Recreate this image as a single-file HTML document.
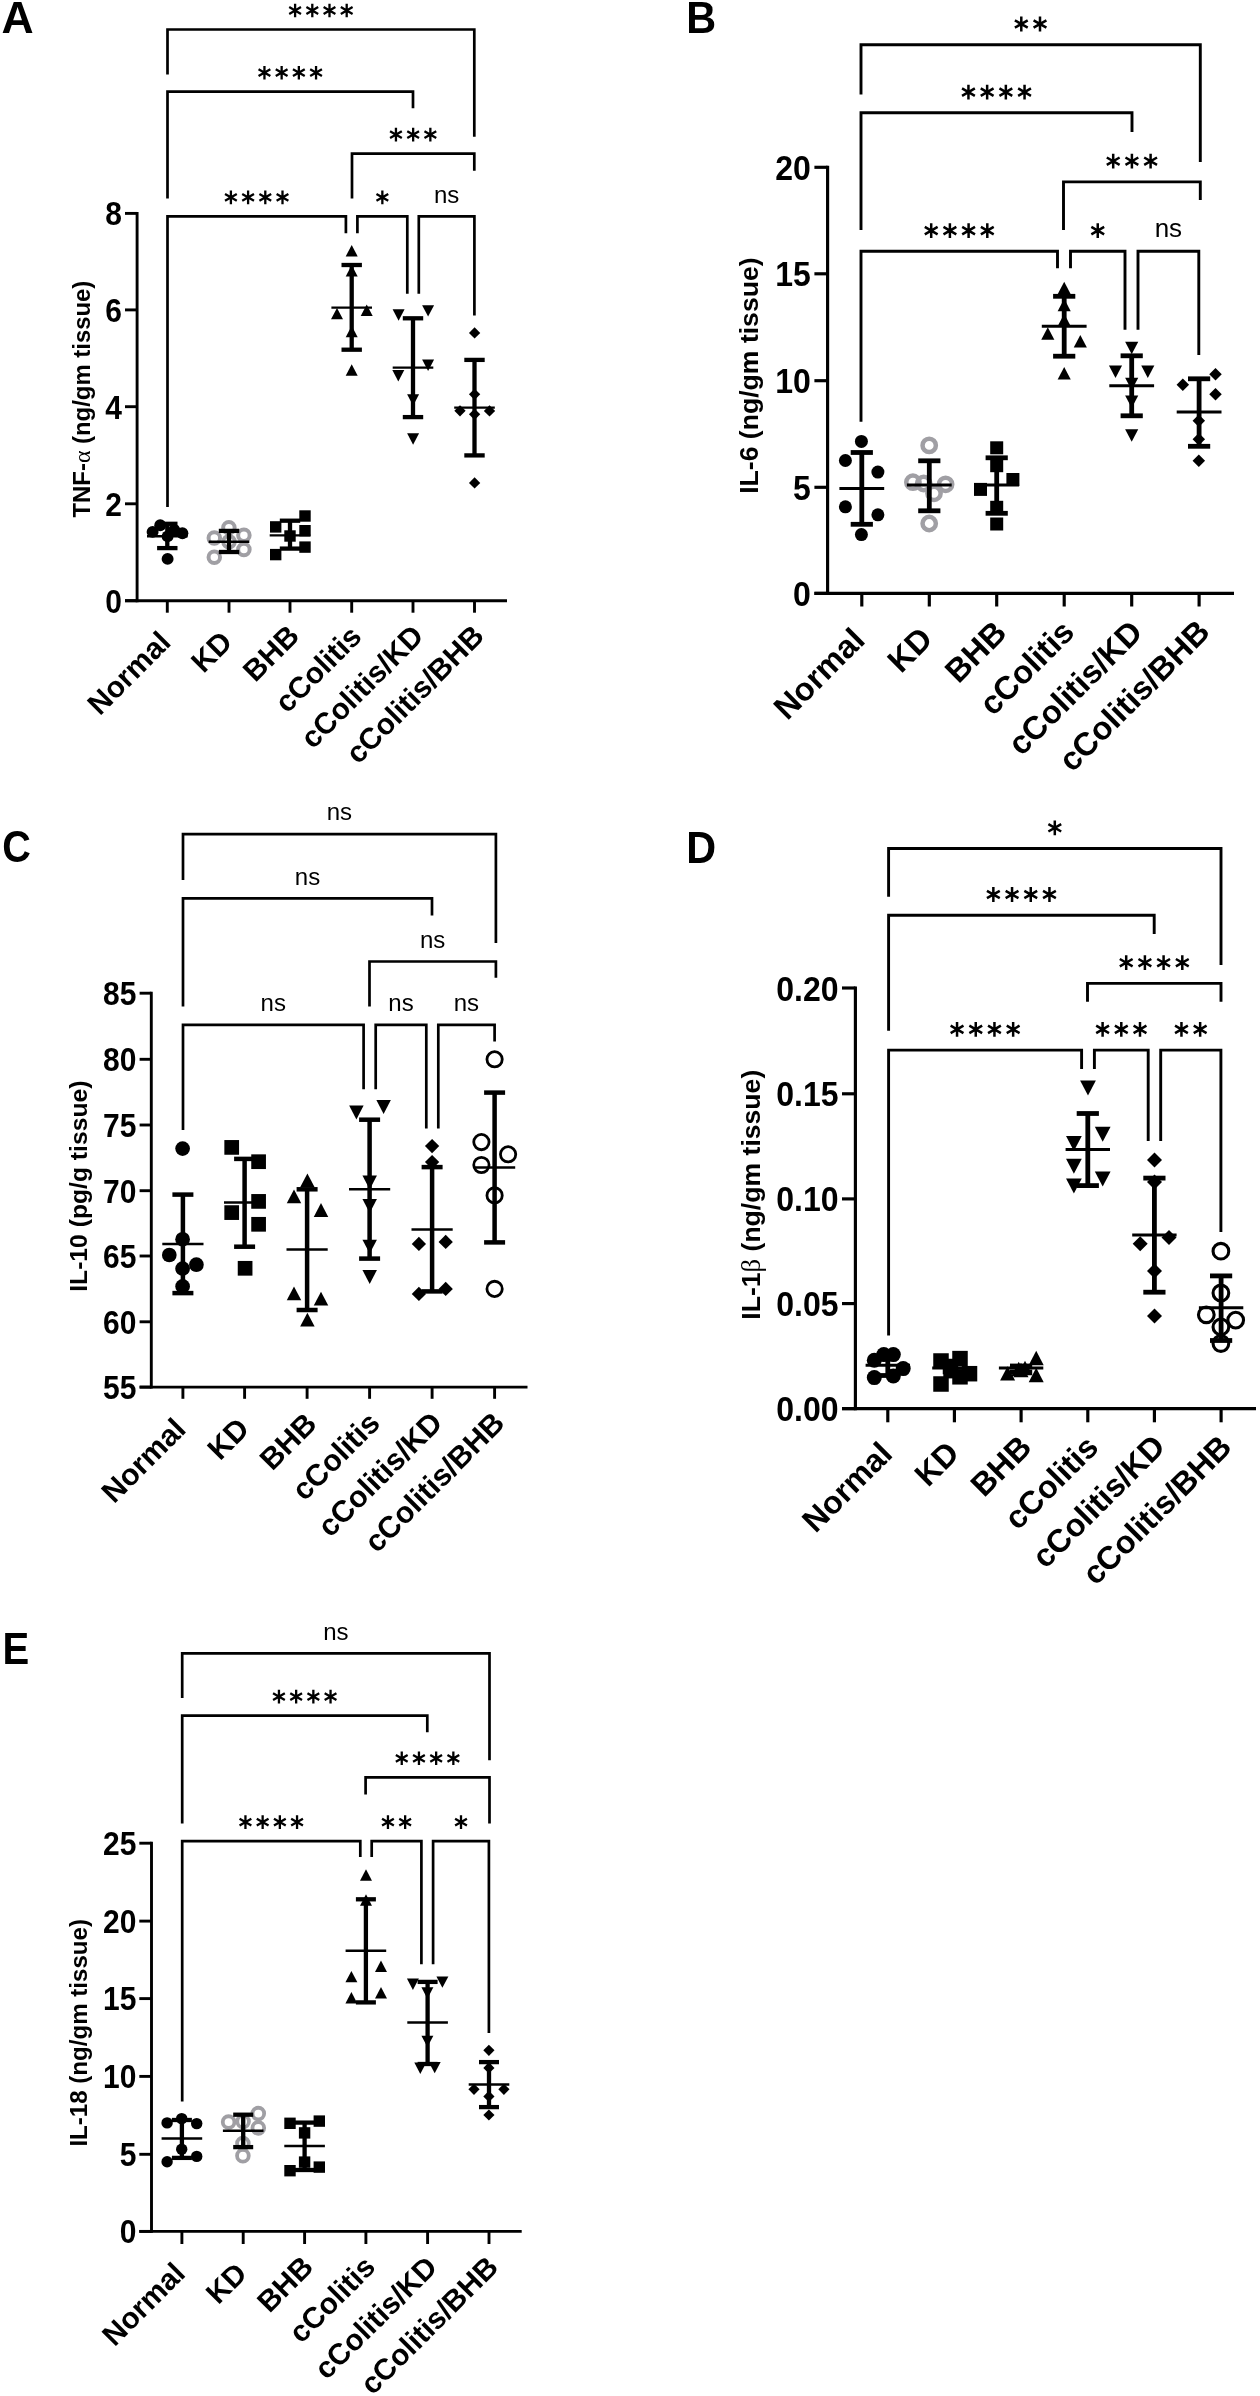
<!DOCTYPE html>
<html><head><meta charset="utf-8"><style>
html,body{margin:0;padding:0;background:#fff;}
svg{display:block;will-change:transform;}
</style></head><body>
<svg width="1260" height="2396" viewBox="0 0 1260 2396">
<text transform="translate(1.4 32.7) scale(1.0 1)" font-family='"Liberation Sans", sans-serif' font-size="44.5" font-weight="bold">A</text>
<line x1="137.1" y1="211.95" x2="137.1" y2="602.15" stroke="#000" stroke-width="2.9" stroke-linecap="butt"/>
<line x1="125" y1="213.4" x2="137.1" y2="213.4" stroke="#000" stroke-width="2.9" stroke-linecap="butt"/>
<text transform="translate(121.9 225.19) scale(1 1.09)" font-family='"Liberation Sans", sans-serif' font-size="30" font-weight="bold" text-anchor="end">8</text>
<line x1="125" y1="309.9" x2="137.1" y2="309.9" stroke="#000" stroke-width="2.9" stroke-linecap="butt"/>
<text transform="translate(121.9 321.69) scale(1 1.09)" font-family='"Liberation Sans", sans-serif' font-size="30" font-weight="bold" text-anchor="end">6</text>
<line x1="125" y1="406.7" x2="137.1" y2="406.7" stroke="#000" stroke-width="2.9" stroke-linecap="butt"/>
<text transform="translate(121.9 418.5) scale(1 1.09)" font-family='"Liberation Sans", sans-serif' font-size="30" font-weight="bold" text-anchor="end">4</text>
<line x1="125" y1="503.8" x2="137.1" y2="503.8" stroke="#000" stroke-width="2.9" stroke-linecap="butt"/>
<text transform="translate(121.9 515.6) scale(1 1.09)" font-family='"Liberation Sans", sans-serif' font-size="30" font-weight="bold" text-anchor="end">2</text>
<line x1="125" y1="600.7" x2="137.1" y2="600.7" stroke="#000" stroke-width="2.9" stroke-linecap="butt"/>
<text transform="translate(121.9 612.5) scale(1 1.09)" font-family='"Liberation Sans", sans-serif' font-size="30" font-weight="bold" text-anchor="end">0</text>
<line x1="125" y1="600.7" x2="507" y2="600.7" stroke="#000" stroke-width="2.9" stroke-linecap="butt"/>
<line x1="167.3" y1="600.7" x2="167.3" y2="612.7" stroke="#000" stroke-width="2.9" stroke-linecap="butt"/>
<line x1="229" y1="600.7" x2="229" y2="612.7" stroke="#000" stroke-width="2.9" stroke-linecap="butt"/>
<line x1="290" y1="600.7" x2="290" y2="612.7" stroke="#000" stroke-width="2.9" stroke-linecap="butt"/>
<line x1="351.7" y1="600.7" x2="351.7" y2="612.7" stroke="#000" stroke-width="2.9" stroke-linecap="butt"/>
<line x1="413" y1="600.7" x2="413" y2="612.7" stroke="#000" stroke-width="2.9" stroke-linecap="butt"/>
<line x1="474.5" y1="600.7" x2="474.5" y2="612.7" stroke="#000" stroke-width="2.9" stroke-linecap="butt"/>
<text x="172.4" y="643.9" font-family='"Liberation Sans", sans-serif' font-size="29.8" font-weight="bold" text-anchor="end" transform="rotate(-45 172.4 643.9)">Normal</text>
<text x="234" y="643.85" font-family='"Liberation Sans", sans-serif' font-size="29.8" font-weight="bold" text-anchor="end" transform="rotate(-45 234 643.85)">KD</text>
<text x="301" y="637.55" font-family='"Liberation Sans", sans-serif' font-size="29.8" font-weight="bold" text-anchor="end" transform="rotate(-45 301 637.55)">BHB</text>
<text x="363.3" y="638.2" font-family='"Liberation Sans", sans-serif' font-size="29.8" font-weight="bold" text-anchor="end" transform="rotate(-45 363.3 638.2)">cColitis</text>
<text x="425.35" y="637.6" font-family='"Liberation Sans", sans-serif' font-size="29.8" font-weight="bold" text-anchor="end" transform="rotate(-45 425.35 637.6)">cColitis/KD</text>
<text x="485.75" y="637.6" font-family='"Liberation Sans", sans-serif' font-size="29.8" font-weight="bold" text-anchor="end" transform="rotate(-45 485.75 637.6)">cColitis/BHB</text>
<text x="89.6" y="399.1" font-family='"Liberation Sans", sans-serif' font-size="23.9" font-weight="bold" text-anchor="middle" transform="rotate(-90 89.6 399.1)">TNF-<tspan font-family="Liberation Serif" font-weight="normal">α</tspan> (ng/gm tissue)</text>
<circle cx="160.2" cy="525.2" r="5.95" fill="#000"/>
<circle cx="152.6" cy="531.9" r="5.95" fill="#000"/>
<circle cx="182.4" cy="533.3" r="5.95" fill="#000"/>
<circle cx="167.6" cy="536.4" r="5.95" fill="#000"/>
<circle cx="174.3" cy="530" r="5.95" fill="#000"/>
<circle cx="167.6" cy="558.9" r="5.95" fill="#000"/>
<circle cx="228.9" cy="527.8" r="5.75" fill="none" stroke="#a09fa4" stroke-width="4"/>
<circle cx="214.3" cy="538.1" r="5.75" fill="none" stroke="#a09fa4" stroke-width="4"/>
<circle cx="243.9" cy="535.2" r="5.75" fill="none" stroke="#a09fa4" stroke-width="4"/>
<circle cx="243.9" cy="549.6" r="5.75" fill="none" stroke="#a09fa4" stroke-width="4"/>
<circle cx="214.3" cy="557.2" r="5.75" fill="none" stroke="#a09fa4" stroke-width="4"/>
<circle cx="229" cy="541.7" r="5.75" fill="none" stroke="#a09fa4" stroke-width="4"/>
<rect x="299.3" y="510.3" width="11.4" height="11.4" fill="#000"/>
<rect x="270" y="521.2" width="11.4" height="11.4" fill="#000"/>
<rect x="299.3" y="525" width="11.4" height="11.4" fill="#000"/>
<rect x="284.3" y="530.3" width="11.4" height="11.4" fill="#000"/>
<rect x="299.3" y="541.4" width="11.4" height="11.4" fill="#000"/>
<rect x="270" y="548.9" width="11.4" height="11.4" fill="#000"/>
<path d="M351.7 245L357.69 256.4L345.71 256.4Z" fill="#000"/>
<path d="M351.7 265L357.69 276.4L345.71 276.4Z" fill="#000"/>
<path d="M337 307.9L342.99 319.3L331.01 319.3Z" fill="#000"/>
<path d="M366.7 304.6L372.69 316L360.71 316Z" fill="#000"/>
<path d="M351.7 325.8L357.69 337.2L345.71 337.2Z" fill="#000"/>
<path d="M351.7 364.3L357.69 375.7L345.71 375.7Z" fill="#000"/>
<path d="M398.6 320.7L404.59 309.3L392.62 309.3Z" fill="#000"/>
<path d="M428.1 316.6L434.09 305.2L422.12 305.2Z" fill="#000"/>
<path d="M428.1 370.9L434.09 359.5L422.12 359.5Z" fill="#000"/>
<path d="M398.3 381.4L404.29 370L392.31 370Z" fill="#000"/>
<path d="M413.1 405.7L419.09 394.3L407.12 394.3Z" fill="#000"/>
<path d="M413.1 444.7L419.09 433.3L407.12 433.3Z" fill="#000"/>
<path d="M474.6 327.25L480.25 332.9L474.6 338.55L468.95 332.9Z" fill="#000"/>
<path d="M474.6 388.65L480.25 394.3L474.6 399.95L468.95 394.3Z" fill="#000"/>
<path d="M460 405.15L465.65 410.8L460 416.45L454.35 410.8Z" fill="#000"/>
<path d="M489.5 405.25L495.15 410.9L489.5 416.55L483.85 410.9Z" fill="#000"/>
<path d="M474.6 408.65L480.25 414.3L474.6 419.95L468.95 414.3Z" fill="#000"/>
<path d="M474.6 477.25L480.25 482.9L474.6 488.55L468.95 482.9Z" fill="#000"/>
<line x1="167.3" y1="523.8" x2="167.3" y2="548.1" stroke="#000" stroke-width="4.3" stroke-linecap="butt"/>
<line x1="157.1" y1="523.8" x2="177.5" y2="523.8" stroke="#000" stroke-width="4.3" stroke-linecap="butt"/>
<line x1="157.1" y1="548.1" x2="177.5" y2="548.1" stroke="#000" stroke-width="4.3" stroke-linecap="butt"/>
<line x1="147" y1="536.2" x2="187.6" y2="536.2" stroke="#000" stroke-width="2.4" stroke-linecap="butt"/>
<line x1="229" y1="530.9" x2="229" y2="552" stroke="#000" stroke-width="4.3" stroke-linecap="butt"/>
<line x1="218.8" y1="530.9" x2="239.2" y2="530.9" stroke="#000" stroke-width="4.3" stroke-linecap="butt"/>
<line x1="218.8" y1="552" x2="239.2" y2="552" stroke="#000" stroke-width="4.3" stroke-linecap="butt"/>
<line x1="208.7" y1="541.7" x2="249.3" y2="541.7" stroke="#000" stroke-width="2.4" stroke-linecap="butt"/>
<line x1="290" y1="520.7" x2="290" y2="548.6" stroke="#000" stroke-width="4.3" stroke-linecap="butt"/>
<line x1="279.8" y1="520.7" x2="300.2" y2="520.7" stroke="#000" stroke-width="4.3" stroke-linecap="butt"/>
<line x1="279.8" y1="548.6" x2="300.2" y2="548.6" stroke="#000" stroke-width="4.3" stroke-linecap="butt"/>
<line x1="269.7" y1="535.4" x2="310.3" y2="535.4" stroke="#000" stroke-width="2.4" stroke-linecap="butt"/>
<line x1="351.7" y1="265" x2="351.7" y2="349.7" stroke="#000" stroke-width="4.3" stroke-linecap="butt"/>
<line x1="341.5" y1="265" x2="361.9" y2="265" stroke="#000" stroke-width="4.3" stroke-linecap="butt"/>
<line x1="341.5" y1="349.7" x2="361.9" y2="349.7" stroke="#000" stroke-width="4.3" stroke-linecap="butt"/>
<line x1="331.4" y1="307.6" x2="372" y2="307.6" stroke="#000" stroke-width="2.4" stroke-linecap="butt"/>
<line x1="413" y1="318.3" x2="413" y2="417.1" stroke="#000" stroke-width="4.3" stroke-linecap="butt"/>
<line x1="402.8" y1="318.3" x2="423.2" y2="318.3" stroke="#000" stroke-width="4.3" stroke-linecap="butt"/>
<line x1="402.8" y1="417.1" x2="423.2" y2="417.1" stroke="#000" stroke-width="4.3" stroke-linecap="butt"/>
<line x1="392.7" y1="367.6" x2="433.3" y2="367.6" stroke="#000" stroke-width="2.4" stroke-linecap="butt"/>
<line x1="474.5" y1="359.9" x2="474.5" y2="455.4" stroke="#000" stroke-width="4.3" stroke-linecap="butt"/>
<line x1="464.3" y1="359.9" x2="484.7" y2="359.9" stroke="#000" stroke-width="4.3" stroke-linecap="butt"/>
<line x1="464.3" y1="455.4" x2="484.7" y2="455.4" stroke="#000" stroke-width="4.3" stroke-linecap="butt"/>
<line x1="454.2" y1="407.6" x2="494.8" y2="407.6" stroke="#000" stroke-width="2.4" stroke-linecap="butt"/>
<path d="M167.5 74.4V29.5H474.3V136.7" stroke="#000" stroke-width="2.7" fill="none" stroke-linejoin="miter" stroke-linecap="butt"/>
<path d="M295.1 3.7L295.1 17.3M289.21 7.1L300.99 13.9M300.99 7.1L289.21 13.9" stroke="#000" stroke-width="2.3" fill="none"/>
<path d="M312.3 3.7L312.3 17.3M306.41 7.1L318.19 13.9M318.19 7.1L306.41 13.9" stroke="#000" stroke-width="2.3" fill="none"/>
<path d="M329.5 3.7L329.5 17.3M323.61 7.1L335.39 13.9M335.39 7.1L323.61 13.9" stroke="#000" stroke-width="2.3" fill="none"/>
<path d="M346.7 3.7L346.7 17.3M340.81 7.1L352.59 13.9M352.59 7.1L340.81 13.9" stroke="#000" stroke-width="2.3" fill="none"/>
<path d="M167.5 198.6V91.7H413V108.3" stroke="#000" stroke-width="2.7" fill="none" stroke-linejoin="miter" stroke-linecap="butt"/>
<path d="M264.45 65.9L264.45 79.5M258.56 69.3L270.34 76.1M270.34 69.3L258.56 76.1" stroke="#000" stroke-width="2.3" fill="none"/>
<path d="M281.65 65.9L281.65 79.5M275.76 69.3L287.54 76.1M287.54 69.3L275.76 76.1" stroke="#000" stroke-width="2.3" fill="none"/>
<path d="M298.85 65.9L298.85 79.5M292.96 69.3L304.74 76.1M304.74 69.3L292.96 76.1" stroke="#000" stroke-width="2.3" fill="none"/>
<path d="M316.05 65.9L316.05 79.5M310.16 69.3L321.94 76.1M321.94 69.3L310.16 76.1" stroke="#000" stroke-width="2.3" fill="none"/>
<path d="M352 198.6V153.6H474.3V170.8" stroke="#000" stroke-width="2.7" fill="none" stroke-linejoin="miter" stroke-linecap="butt"/>
<path d="M395.95 127.8L395.95 141.4M390.06 131.2L401.84 138M401.84 131.2L390.06 138" stroke="#000" stroke-width="2.3" fill="none"/>
<path d="M413.15 127.8L413.15 141.4M407.26 131.2L419.04 138M419.04 131.2L407.26 138" stroke="#000" stroke-width="2.3" fill="none"/>
<path d="M430.35 127.8L430.35 141.4M424.46 131.2L436.24 138M436.24 131.2L424.46 138" stroke="#000" stroke-width="2.3" fill="none"/>
<path d="M167.5 507V216.4H345.9V233.3" stroke="#000" stroke-width="2.7" fill="none" stroke-linejoin="miter" stroke-linecap="butt"/>
<path d="M230.9 190.6L230.9 204.2M225.01 194L236.79 200.8M236.79 194L225.01 200.8" stroke="#000" stroke-width="2.3" fill="none"/>
<path d="M248.1 190.6L248.1 204.2M242.21 194L253.99 200.8M253.99 194L242.21 200.8" stroke="#000" stroke-width="2.3" fill="none"/>
<path d="M265.3 190.6L265.3 204.2M259.41 194L271.19 200.8M271.19 194L259.41 200.8" stroke="#000" stroke-width="2.3" fill="none"/>
<path d="M282.5 190.6L282.5 204.2M276.61 194L288.39 200.8M288.39 194L276.61 200.8" stroke="#000" stroke-width="2.3" fill="none"/>
<path d="M357.4 233.3V216.4H407.3V293.8" stroke="#000" stroke-width="2.7" fill="none" stroke-linejoin="miter" stroke-linecap="butt"/>
<path d="M382.35 190.6L382.35 204.2M376.46 194L388.24 200.8M388.24 194L376.46 200.8" stroke="#000" stroke-width="2.3" fill="none"/>
<path d="M418.8 293.8V216.4H474.4V315.5" stroke="#000" stroke-width="2.7" fill="none" stroke-linejoin="miter" stroke-linecap="butt"/>
<text x="446.6" y="202.9" font-family='"Liberation Sans", sans-serif' font-size="24" font-weight="normal" text-anchor="middle">ns</text>
<text transform="translate(686.2 32.9) scale(0.93 1)" font-family='"Liberation Sans", sans-serif' font-size="44.5" font-weight="bold">B</text>
<line x1="827.6" y1="165.72" x2="827.6" y2="594.98" stroke="#000" stroke-width="3.16" stroke-linecap="butt"/>
<line x1="814.4" y1="167.3" x2="827.6" y2="167.3" stroke="#000" stroke-width="3.16" stroke-linecap="butt"/>
<text transform="translate(810.9 179.85) scale(1 1.09)" font-family='"Liberation Sans", sans-serif' font-size="32" font-weight="bold" text-anchor="end">20</text>
<line x1="814.4" y1="273.8" x2="827.6" y2="273.8" stroke="#000" stroke-width="3.16" stroke-linecap="butt"/>
<text transform="translate(810.9 286.35) scale(1 1.09)" font-family='"Liberation Sans", sans-serif' font-size="32" font-weight="bold" text-anchor="end">15</text>
<line x1="814.4" y1="380.7" x2="827.6" y2="380.7" stroke="#000" stroke-width="3.16" stroke-linecap="butt"/>
<text transform="translate(810.9 393.25) scale(1 1.09)" font-family='"Liberation Sans", sans-serif' font-size="32" font-weight="bold" text-anchor="end">10</text>
<line x1="814.4" y1="487.3" x2="827.6" y2="487.3" stroke="#000" stroke-width="3.16" stroke-linecap="butt"/>
<text transform="translate(810.9 499.85) scale(1 1.09)" font-family='"Liberation Sans", sans-serif' font-size="32" font-weight="bold" text-anchor="end">5</text>
<line x1="814.4" y1="593.4" x2="827.6" y2="593.4" stroke="#000" stroke-width="3.16" stroke-linecap="butt"/>
<text transform="translate(810.9 605.95) scale(1 1.09)" font-family='"Liberation Sans", sans-serif' font-size="32" font-weight="bold" text-anchor="end">0</text>
<line x1="814.4" y1="593.4" x2="1234" y2="593.4" stroke="#000" stroke-width="3.16" stroke-linecap="butt"/>
<line x1="861.8" y1="593.4" x2="861.8" y2="606.5" stroke="#000" stroke-width="3.16" stroke-linecap="butt"/>
<line x1="929.3" y1="593.4" x2="929.3" y2="606.5" stroke="#000" stroke-width="3.16" stroke-linecap="butt"/>
<line x1="996.7" y1="593.4" x2="996.7" y2="606.5" stroke="#000" stroke-width="3.16" stroke-linecap="butt"/>
<line x1="1064.2" y1="593.4" x2="1064.2" y2="606.5" stroke="#000" stroke-width="3.16" stroke-linecap="butt"/>
<line x1="1131.7" y1="593.4" x2="1131.7" y2="606.5" stroke="#000" stroke-width="3.16" stroke-linecap="butt"/>
<line x1="1199.1" y1="593.4" x2="1199.1" y2="606.5" stroke="#000" stroke-width="3.16" stroke-linecap="butt"/>
<text x="866.55" y="641.9" font-family='"Liberation Sans", sans-serif' font-size="32.6" font-weight="bold" text-anchor="end" transform="rotate(-45 866.55 641.9)">Normal</text>
<text x="934.35" y="640.9" font-family='"Liberation Sans", sans-serif' font-size="32.6" font-weight="bold" text-anchor="end" transform="rotate(-45 934.35 640.9)">KD</text>
<text x="1008.35" y="634.55" font-family='"Liberation Sans", sans-serif' font-size="32.6" font-weight="bold" text-anchor="end" transform="rotate(-45 1008.35 634.55)">BHB</text>
<text x="1076.1" y="633.85" font-family='"Liberation Sans", sans-serif' font-size="32.6" font-weight="bold" text-anchor="end" transform="rotate(-45 1076.1 633.85)">cColitis</text>
<text x="1144.4" y="634.1" font-family='"Liberation Sans", sans-serif' font-size="32.6" font-weight="bold" text-anchor="end" transform="rotate(-45 1144.4 634.1)">cColitis/KD</text>
<text x="1211.7" y="633.7" font-family='"Liberation Sans", sans-serif' font-size="32.6" font-weight="bold" text-anchor="end" transform="rotate(-45 1211.7 633.7)">cColitis/BHB</text>
<text x="758.5" y="375.6" font-family='"Liberation Sans", sans-serif' font-size="26.6" font-weight="bold" text-anchor="middle" transform="rotate(-90 758.5 375.6)">IL-6 (ng/gm tissue)</text>
<circle cx="861.4" cy="441.4" r="6.5" fill="#000"/>
<circle cx="845.4" cy="460.5" r="6.5" fill="#000"/>
<circle cx="877.9" cy="472.1" r="6.5" fill="#000"/>
<circle cx="845.4" cy="506.8" r="6.5" fill="#000"/>
<circle cx="877.9" cy="514.8" r="6.5" fill="#000"/>
<circle cx="861.4" cy="534.6" r="6.5" fill="#000"/>
<circle cx="929.2" cy="445.4" r="6.65" fill="none" stroke="#a09fa4" stroke-width="4.5"/>
<circle cx="912.9" cy="482.2" r="6.65" fill="none" stroke="#a09fa4" stroke-width="4.5"/>
<circle cx="923.7" cy="483.5" r="6.65" fill="none" stroke="#a09fa4" stroke-width="4.5"/>
<circle cx="945.6" cy="484.3" r="6.65" fill="none" stroke="#a09fa4" stroke-width="4.5"/>
<circle cx="934" cy="493.3" r="6.65" fill="none" stroke="#a09fa4" stroke-width="4.5"/>
<circle cx="929.2" cy="523.5" r="6.65" fill="none" stroke="#a09fa4" stroke-width="4.5"/>
<rect x="990.2" y="441.3" width="13" height="13" fill="#000"/>
<rect x="990.2" y="459.2" width="13" height="13" fill="#000"/>
<rect x="1006.4" y="473" width="13" height="13" fill="#000"/>
<rect x="974" y="482.9" width="13" height="13" fill="#000"/>
<rect x="990.2" y="500.8" width="13" height="13" fill="#000"/>
<rect x="990.2" y="517.5" width="13" height="13" fill="#000"/>
<path d="M1064.2 281.75L1070.76 294.25L1057.64 294.25Z" fill="#000"/>
<path d="M1064.2 298.75L1070.76 311.25L1057.64 311.25Z" fill="#000"/>
<path d="M1064.2 313.75L1070.76 326.25L1057.64 326.25Z" fill="#000"/>
<path d="M1047.8 327.25L1054.36 339.75L1041.24 339.75Z" fill="#000"/>
<path d="M1080.3 335.05L1086.86 347.55L1073.74 347.55Z" fill="#000"/>
<path d="M1064.2 366.95L1070.76 379.45L1057.64 379.45Z" fill="#000"/>
<path d="M1131.7 354.25L1138.26 341.75L1125.14 341.75Z" fill="#000"/>
<path d="M1115.5 377.95L1122.06 365.45L1108.94 365.45Z" fill="#000"/>
<path d="M1147.8 378.05L1154.36 365.55L1141.24 365.55Z" fill="#000"/>
<path d="M1131.7 390.25L1138.26 377.75L1125.14 377.75Z" fill="#000"/>
<path d="M1131.7 407.95L1138.26 395.45L1125.14 395.45Z" fill="#000"/>
<path d="M1131.7 441.75L1138.26 429.25L1125.14 429.25Z" fill="#000"/>
<path d="M1215.5 367.95L1221.75 374.2L1215.5 380.45L1209.25 374.2Z" fill="#000"/>
<path d="M1182.8 378.45L1189.05 384.7L1182.8 390.95L1176.55 384.7Z" fill="#000"/>
<path d="M1215.5 387.95L1221.75 394.2L1215.5 400.45L1209.25 394.2Z" fill="#000"/>
<path d="M1198.8 414.55L1205.05 420.8L1198.8 427.05L1192.55 420.8Z" fill="#000"/>
<path d="M1198.8 432.95L1205.05 439.2L1198.8 445.45L1192.55 439.2Z" fill="#000"/>
<path d="M1198.8 454.55L1205.05 460.8L1198.8 467.05L1192.55 460.8Z" fill="#000"/>
<line x1="861.8" y1="452.5" x2="861.8" y2="524.3" stroke="#000" stroke-width="4.8" stroke-linecap="butt"/>
<line x1="850.7" y1="452.5" x2="872.9" y2="452.5" stroke="#000" stroke-width="4.8" stroke-linecap="butt"/>
<line x1="850.7" y1="524.3" x2="872.9" y2="524.3" stroke="#000" stroke-width="4.8" stroke-linecap="butt"/>
<line x1="839.4" y1="488.6" x2="884.2" y2="488.6" stroke="#000" stroke-width="3" stroke-linecap="butt"/>
<line x1="929.3" y1="460.8" x2="929.3" y2="510.8" stroke="#000" stroke-width="4.8" stroke-linecap="butt"/>
<line x1="918.2" y1="460.8" x2="940.4" y2="460.8" stroke="#000" stroke-width="4.8" stroke-linecap="butt"/>
<line x1="918.2" y1="510.8" x2="940.4" y2="510.8" stroke="#000" stroke-width="4.8" stroke-linecap="butt"/>
<line x1="906.9" y1="485.1" x2="951.7" y2="485.1" stroke="#000" stroke-width="3" stroke-linecap="butt"/>
<line x1="996.7" y1="457.8" x2="996.7" y2="513.3" stroke="#000" stroke-width="4.8" stroke-linecap="butt"/>
<line x1="985.6" y1="457.8" x2="1007.8" y2="457.8" stroke="#000" stroke-width="4.8" stroke-linecap="butt"/>
<line x1="985.6" y1="513.3" x2="1007.8" y2="513.3" stroke="#000" stroke-width="4.8" stroke-linecap="butt"/>
<line x1="974.3" y1="485.1" x2="1019.1" y2="485.1" stroke="#000" stroke-width="3" stroke-linecap="butt"/>
<line x1="1064.2" y1="296.3" x2="1064.2" y2="356.2" stroke="#000" stroke-width="4.8" stroke-linecap="butt"/>
<line x1="1053.1" y1="296.3" x2="1075.3" y2="296.3" stroke="#000" stroke-width="4.8" stroke-linecap="butt"/>
<line x1="1053.1" y1="356.2" x2="1075.3" y2="356.2" stroke="#000" stroke-width="4.8" stroke-linecap="butt"/>
<line x1="1041.8" y1="326.3" x2="1086.6" y2="326.3" stroke="#000" stroke-width="3" stroke-linecap="butt"/>
<line x1="1131.7" y1="355.8" x2="1131.7" y2="415.8" stroke="#000" stroke-width="4.8" stroke-linecap="butt"/>
<line x1="1120.6" y1="355.8" x2="1142.8" y2="355.8" stroke="#000" stroke-width="4.8" stroke-linecap="butt"/>
<line x1="1120.6" y1="415.8" x2="1142.8" y2="415.8" stroke="#000" stroke-width="4.8" stroke-linecap="butt"/>
<line x1="1109.3" y1="385.8" x2="1154.1" y2="385.8" stroke="#000" stroke-width="3" stroke-linecap="butt"/>
<line x1="1199.1" y1="378.8" x2="1199.1" y2="446.3" stroke="#000" stroke-width="4.8" stroke-linecap="butt"/>
<line x1="1188" y1="378.8" x2="1210.2" y2="378.8" stroke="#000" stroke-width="4.8" stroke-linecap="butt"/>
<line x1="1188" y1="446.3" x2="1210.2" y2="446.3" stroke="#000" stroke-width="4.8" stroke-linecap="butt"/>
<line x1="1176.7" y1="412" x2="1221.5" y2="412" stroke="#000" stroke-width="3" stroke-linecap="butt"/>
<path d="M861 94.4V44.7H1200.3V162" stroke="#000" stroke-width="2.9" fill="none" stroke-linejoin="miter" stroke-linecap="butt"/>
<path d="M1021.3 16.6L1021.3 31.4M1014.89 20.3L1027.71 27.7M1027.71 20.3L1014.89 27.7" stroke="#000" stroke-width="2.5" fill="none"/>
<path d="M1040 16.6L1040 31.4M1033.59 20.3L1046.41 27.7M1046.41 20.3L1033.59 27.7" stroke="#000" stroke-width="2.5" fill="none"/>
<path d="M861 230V112.8H1132V132" stroke="#000" stroke-width="2.9" fill="none" stroke-linejoin="miter" stroke-linecap="butt"/>
<path d="M968.45 84.7L968.45 99.5M962.04 88.4L974.86 95.8M974.86 88.4L962.04 95.8" stroke="#000" stroke-width="2.5" fill="none"/>
<path d="M987.15 84.7L987.15 99.5M980.74 88.4L993.56 95.8M993.56 88.4L980.74 95.8" stroke="#000" stroke-width="2.5" fill="none"/>
<path d="M1005.85 84.7L1005.85 99.5M999.44 88.4L1012.26 95.8M1012.26 88.4L999.44 95.8" stroke="#000" stroke-width="2.5" fill="none"/>
<path d="M1024.55 84.7L1024.55 99.5M1018.14 88.4L1030.96 95.8M1030.96 88.4L1018.14 95.8" stroke="#000" stroke-width="2.5" fill="none"/>
<path d="M1063.5 230V181.9H1200.3V200" stroke="#000" stroke-width="2.9" fill="none" stroke-linejoin="miter" stroke-linecap="butt"/>
<path d="M1113.2 153.8L1113.2 168.6M1106.79 157.5L1119.61 164.9M1119.61 157.5L1106.79 164.9" stroke="#000" stroke-width="2.5" fill="none"/>
<path d="M1131.9 153.8L1131.9 168.6M1125.49 157.5L1138.31 164.9M1138.31 157.5L1125.49 164.9" stroke="#000" stroke-width="2.5" fill="none"/>
<path d="M1150.6 153.8L1150.6 168.6M1144.19 157.5L1157.01 164.9M1157.01 157.5L1144.19 164.9" stroke="#000" stroke-width="2.5" fill="none"/>
<path d="M861 421.8V251.3H1057.5V268.3" stroke="#000" stroke-width="2.9" fill="none" stroke-linejoin="miter" stroke-linecap="butt"/>
<path d="M931.2 223.2L931.2 238M924.79 226.9L937.61 234.3M937.61 226.9L924.79 234.3" stroke="#000" stroke-width="2.5" fill="none"/>
<path d="M949.9 223.2L949.9 238M943.49 226.9L956.31 234.3M956.31 226.9L943.49 234.3" stroke="#000" stroke-width="2.5" fill="none"/>
<path d="M968.6 223.2L968.6 238M962.19 226.9L975.01 234.3M975.01 226.9L962.19 234.3" stroke="#000" stroke-width="2.5" fill="none"/>
<path d="M987.3 223.2L987.3 238M980.89 226.9L993.71 234.3M993.71 226.9L980.89 234.3" stroke="#000" stroke-width="2.5" fill="none"/>
<path d="M1070.5 268.3V251.3H1125V329.7" stroke="#000" stroke-width="2.9" fill="none" stroke-linejoin="miter" stroke-linecap="butt"/>
<path d="M1097.75 223.2L1097.75 238M1091.34 226.9L1104.16 234.3M1104.16 226.9L1091.34 234.3" stroke="#000" stroke-width="2.5" fill="none"/>
<path d="M1138 329.7V251.3H1198.8V355" stroke="#000" stroke-width="2.9" fill="none" stroke-linejoin="miter" stroke-linecap="butt"/>
<text x="1168.4" y="236.6" font-family='"Liberation Sans", sans-serif' font-size="26" font-weight="normal" text-anchor="middle">ns</text>
<text transform="translate(2.2 862.3) scale(0.89 1)" font-family='"Liberation Sans", sans-serif' font-size="44.5" font-weight="bold">C</text>
<line x1="151.3" y1="991.75" x2="151.3" y2="1388.55" stroke="#000" stroke-width="2.9" stroke-linecap="butt"/>
<line x1="139.6" y1="993.2" x2="151.3" y2="993.2" stroke="#000" stroke-width="2.9" stroke-linecap="butt"/>
<text transform="translate(136.4 1005) scale(1 1.09)" font-family='"Liberation Sans", sans-serif' font-size="30" font-weight="bold" text-anchor="end">85</text>
<line x1="139.6" y1="1059.3" x2="151.3" y2="1059.3" stroke="#000" stroke-width="2.9" stroke-linecap="butt"/>
<text transform="translate(136.4 1071.1) scale(1 1.09)" font-family='"Liberation Sans", sans-serif' font-size="30" font-weight="bold" text-anchor="end">80</text>
<line x1="139.6" y1="1125" x2="151.3" y2="1125" stroke="#000" stroke-width="2.9" stroke-linecap="butt"/>
<text transform="translate(136.4 1136.8) scale(1 1.09)" font-family='"Liberation Sans", sans-serif' font-size="30" font-weight="bold" text-anchor="end">75</text>
<line x1="139.6" y1="1190.7" x2="151.3" y2="1190.7" stroke="#000" stroke-width="2.9" stroke-linecap="butt"/>
<text transform="translate(136.4 1202.5) scale(1 1.09)" font-family='"Liberation Sans", sans-serif' font-size="30" font-weight="bold" text-anchor="end">70</text>
<line x1="139.6" y1="1256" x2="151.3" y2="1256" stroke="#000" stroke-width="2.9" stroke-linecap="butt"/>
<text transform="translate(136.4 1267.8) scale(1 1.09)" font-family='"Liberation Sans", sans-serif' font-size="30" font-weight="bold" text-anchor="end">65</text>
<line x1="139.6" y1="1321.8" x2="151.3" y2="1321.8" stroke="#000" stroke-width="2.9" stroke-linecap="butt"/>
<text transform="translate(136.4 1333.6) scale(1 1.09)" font-family='"Liberation Sans", sans-serif' font-size="30" font-weight="bold" text-anchor="end">60</text>
<line x1="139.6" y1="1387.1" x2="151.3" y2="1387.1" stroke="#000" stroke-width="2.9" stroke-linecap="butt"/>
<text transform="translate(136.4 1398.89) scale(1 1.09)" font-family='"Liberation Sans", sans-serif' font-size="30" font-weight="bold" text-anchor="end">55</text>
<line x1="139.6" y1="1387.1" x2="527.5" y2="1387.1" stroke="#000" stroke-width="2.9" stroke-linecap="butt"/>
<line x1="182.9" y1="1387.1" x2="182.9" y2="1398.8" stroke="#000" stroke-width="2.9" stroke-linecap="butt"/>
<line x1="244.6" y1="1387.1" x2="244.6" y2="1398.8" stroke="#000" stroke-width="2.9" stroke-linecap="butt"/>
<line x1="307.1" y1="1387.1" x2="307.1" y2="1398.8" stroke="#000" stroke-width="2.9" stroke-linecap="butt"/>
<line x1="369.6" y1="1387.1" x2="369.6" y2="1398.8" stroke="#000" stroke-width="2.9" stroke-linecap="butt"/>
<line x1="432.1" y1="1387.1" x2="432.1" y2="1398.8" stroke="#000" stroke-width="2.9" stroke-linecap="butt"/>
<line x1="494.6" y1="1387.1" x2="494.6" y2="1398.8" stroke="#000" stroke-width="2.9" stroke-linecap="butt"/>
<text x="187.55" y="1430.95" font-family='"Liberation Sans", sans-serif' font-size="30.2" font-weight="bold" text-anchor="end" transform="rotate(-45 187.55 1430.95)">Normal</text>
<text x="250.9" y="1430.6" font-family='"Liberation Sans", sans-serif' font-size="30.2" font-weight="bold" text-anchor="end" transform="rotate(-45 250.9 1430.6)">KD</text>
<text x="318.45" y="1425.6" font-family='"Liberation Sans", sans-serif' font-size="30.2" font-weight="bold" text-anchor="end" transform="rotate(-45 318.45 1425.6)">BHB</text>
<text x="381.55" y="1424.95" font-family='"Liberation Sans", sans-serif' font-size="30.2" font-weight="bold" text-anchor="end" transform="rotate(-45 381.55 1424.95)">cColitis</text>
<text x="444.2" y="1424.5" font-family='"Liberation Sans", sans-serif' font-size="30.2" font-weight="bold" text-anchor="end" transform="rotate(-45 444.2 1424.5)">cColitis/KD</text>
<text x="506.25" y="1424.75" font-family='"Liberation Sans", sans-serif' font-size="30.2" font-weight="bold" text-anchor="end" transform="rotate(-45 506.25 1424.75)">cColitis/BHB</text>
<text x="87.4" y="1186.2" font-family='"Liberation Sans", sans-serif' font-size="24.7" font-weight="bold" text-anchor="middle" transform="rotate(-90 87.4 1186.2)">IL-10 (pg/g tissue)</text>
<circle cx="182.6" cy="1148.6" r="7.35" fill="#000"/>
<circle cx="182.6" cy="1239.3" r="7.35" fill="#000"/>
<circle cx="169.3" cy="1255" r="7.35" fill="#000"/>
<circle cx="182.6" cy="1268.6" r="7.35" fill="#000"/>
<circle cx="196.4" cy="1264.7" r="7.35" fill="#000"/>
<circle cx="182.6" cy="1286.4" r="7.35" fill="#000"/>
<rect x="224.35" y="1140.05" width="14.7" height="14.7" fill="#000"/>
<rect x="251.25" y="1154.35" width="14.7" height="14.7" fill="#000"/>
<rect x="251.25" y="1194.05" width="14.7" height="14.7" fill="#000"/>
<rect x="224.35" y="1205.25" width="14.7" height="14.7" fill="#000"/>
<rect x="251.25" y="1216.95" width="14.7" height="14.7" fill="#000"/>
<rect x="237.75" y="1260.95" width="14.7" height="14.7" fill="#000"/>
<path d="M307.4 1173.4L314.64 1187.2L300.15 1187.2Z" fill="#000"/>
<path d="M294 1189.5L301.25 1203.3L286.75 1203.3Z" fill="#000"/>
<path d="M321 1203.1L328.25 1216.9L313.75 1216.9Z" fill="#000"/>
<path d="M294 1286.5L301.25 1300.3L286.75 1300.3Z" fill="#000"/>
<path d="M321 1291.7L328.25 1305.5L313.75 1305.5Z" fill="#000"/>
<path d="M307.4 1312.7L314.64 1326.5L300.15 1326.5Z" fill="#000"/>
<path d="M356.4 1119.4L363.64 1105.6L349.15 1105.6Z" fill="#000"/>
<path d="M383.6 1113.9L390.85 1100.1L376.36 1100.1Z" fill="#000"/>
<path d="M369.7 1189.4L376.94 1175.6L362.45 1175.6Z" fill="#000"/>
<path d="M369.7 1212.9L376.94 1199.1L362.45 1199.1Z" fill="#000"/>
<path d="M369.7 1253.5L376.94 1239.7L362.45 1239.7Z" fill="#000"/>
<path d="M369.7 1283.9L376.94 1270.1L362.45 1270.1Z" fill="#000"/>
<path d="M432.1 1138.95L439.25 1146.1L432.1 1153.25L424.95 1146.1Z" fill="#000"/>
<path d="M432.1 1154.95L439.25 1162.1L432.1 1169.25L424.95 1162.1Z" fill="#000"/>
<path d="M418.9 1236.75L426.05 1243.9L418.9 1251.05L411.75 1243.9Z" fill="#000"/>
<path d="M445.7 1234.75L452.85 1241.9L445.7 1249.05L438.55 1241.9Z" fill="#000"/>
<path d="M418.9 1286.75L426.05 1293.9L418.9 1301.05L411.75 1293.9Z" fill="#000"/>
<path d="M445.7 1281.75L452.85 1288.9L445.7 1296.05L438.55 1288.9Z" fill="#000"/>
<circle cx="494.6" cy="1059.3" r="7.65" fill="none" stroke="#000" stroke-width="2.8"/>
<circle cx="481.4" cy="1142.1" r="7.65" fill="none" stroke="#000" stroke-width="2.8"/>
<circle cx="508.1" cy="1154.3" r="7.65" fill="none" stroke="#000" stroke-width="2.8"/>
<circle cx="481.4" cy="1165" r="7.65" fill="none" stroke="#000" stroke-width="2.8"/>
<circle cx="494.6" cy="1195.4" r="7.65" fill="none" stroke="#000" stroke-width="2.8"/>
<circle cx="494.6" cy="1288.9" r="7.65" fill="none" stroke="#000" stroke-width="2.8"/>
<line x1="182.9" y1="1194.6" x2="182.9" y2="1293.1" stroke="#000" stroke-width="4.5" stroke-linecap="butt"/>
<line x1="172.4" y1="1194.6" x2="193.4" y2="1194.6" stroke="#000" stroke-width="4.5" stroke-linecap="butt"/>
<line x1="172.4" y1="1293.1" x2="193.4" y2="1293.1" stroke="#000" stroke-width="4.5" stroke-linecap="butt"/>
<line x1="162.3" y1="1243.9" x2="203.5" y2="1243.9" stroke="#000" stroke-width="2.5" stroke-linecap="butt"/>
<line x1="244.6" y1="1158.9" x2="244.6" y2="1246.7" stroke="#000" stroke-width="4.5" stroke-linecap="butt"/>
<line x1="234.1" y1="1158.9" x2="255.1" y2="1158.9" stroke="#000" stroke-width="4.5" stroke-linecap="butt"/>
<line x1="234.1" y1="1246.7" x2="255.1" y2="1246.7" stroke="#000" stroke-width="4.5" stroke-linecap="butt"/>
<line x1="224" y1="1202.6" x2="265.2" y2="1202.6" stroke="#000" stroke-width="2.5" stroke-linecap="butt"/>
<line x1="307.1" y1="1189.3" x2="307.1" y2="1310" stroke="#000" stroke-width="4.5" stroke-linecap="butt"/>
<line x1="296.6" y1="1189.3" x2="317.6" y2="1189.3" stroke="#000" stroke-width="4.5" stroke-linecap="butt"/>
<line x1="296.6" y1="1310" x2="317.6" y2="1310" stroke="#000" stroke-width="4.5" stroke-linecap="butt"/>
<line x1="286.5" y1="1249.6" x2="327.7" y2="1249.6" stroke="#000" stroke-width="2.5" stroke-linecap="butt"/>
<line x1="369.6" y1="1119.7" x2="369.6" y2="1258.6" stroke="#000" stroke-width="4.5" stroke-linecap="butt"/>
<line x1="359.1" y1="1119.7" x2="380.1" y2="1119.7" stroke="#000" stroke-width="4.5" stroke-linecap="butt"/>
<line x1="359.1" y1="1258.6" x2="380.1" y2="1258.6" stroke="#000" stroke-width="4.5" stroke-linecap="butt"/>
<line x1="349" y1="1189.3" x2="390.2" y2="1189.3" stroke="#000" stroke-width="2.5" stroke-linecap="butt"/>
<line x1="432.1" y1="1167.1" x2="432.1" y2="1291.4" stroke="#000" stroke-width="4.5" stroke-linecap="butt"/>
<line x1="421.6" y1="1167.1" x2="442.6" y2="1167.1" stroke="#000" stroke-width="4.5" stroke-linecap="butt"/>
<line x1="421.6" y1="1291.4" x2="442.6" y2="1291.4" stroke="#000" stroke-width="4.5" stroke-linecap="butt"/>
<line x1="411.5" y1="1229.6" x2="452.7" y2="1229.6" stroke="#000" stroke-width="2.5" stroke-linecap="butt"/>
<line x1="494.6" y1="1092.6" x2="494.6" y2="1242.4" stroke="#000" stroke-width="4.5" stroke-linecap="butt"/>
<line x1="484.1" y1="1092.6" x2="505.1" y2="1092.6" stroke="#000" stroke-width="4.5" stroke-linecap="butt"/>
<line x1="484.1" y1="1242.4" x2="505.1" y2="1242.4" stroke="#000" stroke-width="4.5" stroke-linecap="butt"/>
<line x1="474" y1="1167.4" x2="515.2" y2="1167.4" stroke="#000" stroke-width="2.5" stroke-linecap="butt"/>
<path d="M183 880V834.1H495.9V943" stroke="#000" stroke-width="2.7" fill="none" stroke-linejoin="miter" stroke-linecap="butt"/>
<text x="339.45" y="820.2" font-family='"Liberation Sans", sans-serif' font-size="24" font-weight="normal" text-anchor="middle">ns</text>
<path d="M183 1006.5V898.4H432V915.6" stroke="#000" stroke-width="2.7" fill="none" stroke-linejoin="miter" stroke-linecap="butt"/>
<text x="307.5" y="884.5" font-family='"Liberation Sans", sans-serif' font-size="24" font-weight="normal" text-anchor="middle">ns</text>
<path d="M369.5 1006.5V961.5H495.9V977.7" stroke="#000" stroke-width="2.7" fill="none" stroke-linejoin="miter" stroke-linecap="butt"/>
<text x="432.7" y="947.6" font-family='"Liberation Sans", sans-serif' font-size="24" font-weight="normal" text-anchor="middle">ns</text>
<path d="M183 1130V1024.9H363.6V1089.3" stroke="#000" stroke-width="2.7" fill="none" stroke-linejoin="miter" stroke-linecap="butt"/>
<text x="273.3" y="1011" font-family='"Liberation Sans", sans-serif' font-size="24" font-weight="normal" text-anchor="middle">ns</text>
<path d="M375.7 1089.3V1024.9H426.3V1128.6" stroke="#000" stroke-width="2.7" fill="none" stroke-linejoin="miter" stroke-linecap="butt"/>
<text x="401" y="1011" font-family='"Liberation Sans", sans-serif' font-size="24" font-weight="normal" text-anchor="middle">ns</text>
<path d="M438.3 1128.6V1024.9H494.6V1041.4" stroke="#000" stroke-width="2.7" fill="none" stroke-linejoin="miter" stroke-linecap="butt"/>
<text x="466.45" y="1011" font-family='"Liberation Sans", sans-serif' font-size="24" font-weight="normal" text-anchor="middle">ns</text>
<text transform="translate(686.2 862.7) scale(0.93 1)" font-family='"Liberation Sans", sans-serif' font-size="44.5" font-weight="bold">D</text>
<line x1="855.4" y1="986.42" x2="855.4" y2="1410.18" stroke="#000" stroke-width="3.16" stroke-linecap="butt"/>
<line x1="842" y1="988" x2="855.4" y2="988" stroke="#000" stroke-width="3.16" stroke-linecap="butt"/>
<text transform="translate(838.6 1000.55) scale(1 1.09)" font-family='"Liberation Sans", sans-serif' font-size="32" font-weight="bold" text-anchor="end">0.20</text>
<line x1="842" y1="1093.8" x2="855.4" y2="1093.8" stroke="#000" stroke-width="3.16" stroke-linecap="butt"/>
<text transform="translate(838.6 1106.35) scale(1 1.09)" font-family='"Liberation Sans", sans-serif' font-size="32" font-weight="bold" text-anchor="end">0.15</text>
<line x1="842" y1="1198.9" x2="855.4" y2="1198.9" stroke="#000" stroke-width="3.16" stroke-linecap="butt"/>
<text transform="translate(838.6 1211.45) scale(1 1.09)" font-family='"Liberation Sans", sans-serif' font-size="32" font-weight="bold" text-anchor="end">0.10</text>
<line x1="842" y1="1303.6" x2="855.4" y2="1303.6" stroke="#000" stroke-width="3.16" stroke-linecap="butt"/>
<text transform="translate(838.6 1316.15) scale(1 1.09)" font-family='"Liberation Sans", sans-serif' font-size="32" font-weight="bold" text-anchor="end">0.05</text>
<line x1="842" y1="1408.6" x2="855.4" y2="1408.6" stroke="#000" stroke-width="3.16" stroke-linecap="butt"/>
<text transform="translate(838.6 1421.15) scale(1 1.09)" font-family='"Liberation Sans", sans-serif' font-size="32" font-weight="bold" text-anchor="end">0.00</text>
<line x1="842" y1="1408.6" x2="1256" y2="1408.6" stroke="#000" stroke-width="3.16" stroke-linecap="butt"/>
<line x1="887.8" y1="1408.6" x2="887.8" y2="1422.3" stroke="#000" stroke-width="3.16" stroke-linecap="butt"/>
<line x1="954.4" y1="1408.6" x2="954.4" y2="1422.3" stroke="#000" stroke-width="3.16" stroke-linecap="butt"/>
<line x1="1021.1" y1="1408.6" x2="1021.1" y2="1422.3" stroke="#000" stroke-width="3.16" stroke-linecap="butt"/>
<line x1="1087.8" y1="1408.6" x2="1087.8" y2="1422.3" stroke="#000" stroke-width="3.16" stroke-linecap="butt"/>
<line x1="1154.4" y1="1408.6" x2="1154.4" y2="1422.3" stroke="#000" stroke-width="3.16" stroke-linecap="butt"/>
<line x1="1221.1" y1="1408.6" x2="1221.1" y2="1422.3" stroke="#000" stroke-width="3.16" stroke-linecap="butt"/>
<text x="894.05" y="1455.65" font-family='"Liberation Sans", sans-serif' font-size="32.2" font-weight="bold" text-anchor="end" transform="rotate(-45 894.05 1455.65)">Normal</text>
<text x="960.85" y="1455.05" font-family='"Liberation Sans", sans-serif' font-size="32.2" font-weight="bold" text-anchor="end" transform="rotate(-45 960.85 1455.05)">KD</text>
<text x="1033.35" y="1449.05" font-family='"Liberation Sans", sans-serif' font-size="32.2" font-weight="bold" text-anchor="end" transform="rotate(-45 1033.35 1449.05)">BHB</text>
<text x="1100.05" y="1449.15" font-family='"Liberation Sans", sans-serif' font-size="32.2" font-weight="bold" text-anchor="end" transform="rotate(-45 1100.05 1449.15)">cColitis</text>
<text x="1167" y="1448.25" font-family='"Liberation Sans", sans-serif' font-size="32.2" font-weight="bold" text-anchor="end" transform="rotate(-45 1167 1448.25)">cColitis/KD</text>
<text x="1233.55" y="1448.7" font-family='"Liberation Sans", sans-serif' font-size="32.2" font-weight="bold" text-anchor="end" transform="rotate(-45 1233.55 1448.7)">cColitis/BHB</text>
<text x="760.4" y="1194.7" font-family='"Liberation Sans", sans-serif' font-size="26.6" font-weight="bold" text-anchor="middle" transform="rotate(-90 760.4 1194.7)">IL-1<tspan font-family="Liberation Serif" font-weight="normal">β</tspan> (ng/gm tissue)</text>
<circle cx="883.8" cy="1354.6" r="7.5" fill="#000"/>
<circle cx="893.3" cy="1354.6" r="7.5" fill="#000"/>
<circle cx="874.3" cy="1360.2" r="7.5" fill="#000"/>
<circle cx="903.2" cy="1368.6" r="7.5" fill="#000"/>
<circle cx="874.3" cy="1377.6" r="7.5" fill="#000"/>
<circle cx="893.3" cy="1376" r="7.5" fill="#000"/>
<rect x="933.25" y="1353.25" width="15.5" height="15.5" fill="#000"/>
<rect x="952.25" y="1350.85" width="15.5" height="15.5" fill="#000"/>
<rect x="933.25" y="1376.25" width="15.5" height="15.5" fill="#000"/>
<rect x="952.25" y="1369.05" width="15.5" height="15.5" fill="#000"/>
<rect x="961.75" y="1365.95" width="15.5" height="15.5" fill="#000"/>
<rect x="942.75" y="1358.75" width="15.5" height="15.5" fill="#000"/>
<path d="M1036.2 1350.85L1043.71 1365.15L1028.69 1365.15Z" fill="#000"/>
<path d="M1036.2 1367.85L1043.71 1382.15L1028.69 1382.15Z" fill="#000"/>
<path d="M1007.6 1366.25L1015.11 1380.55L1000.09 1380.55Z" fill="#000"/>
<path d="M1018.7 1361.85L1026.21 1376.15L1011.19 1376.15Z" fill="#000"/>
<path d="M1021 1362.85L1028.51 1377.15L1013.49 1377.15Z" fill="#000"/>
<path d="M1025 1360.85L1032.51 1375.15L1017.49 1375.15Z" fill="#000"/>
<path d="M1088 1095.4L1095.88 1080.4L1080.12 1080.4Z" fill="#000"/>
<path d="M1102.7 1141.7L1110.58 1126.7L1094.83 1126.7Z" fill="#000"/>
<path d="M1073.9 1151.1L1081.78 1136.1L1066.03 1136.1Z" fill="#000"/>
<path d="M1073.9 1173.7L1081.78 1158.7L1066.03 1158.7Z" fill="#000"/>
<path d="M1102.7 1186.6L1110.58 1171.6L1094.83 1171.6Z" fill="#000"/>
<path d="M1073.9 1193.4L1081.78 1178.4L1066.03 1178.4Z" fill="#000"/>
<path d="M1154.5 1152.5L1162 1160L1154.5 1167.5L1147 1160Z" fill="#000"/>
<path d="M1154.5 1174.5L1162 1182L1154.5 1189.5L1147 1182Z" fill="#000"/>
<path d="M1169 1230.1L1176.5 1237.6L1169 1245.1L1161.5 1237.6Z" fill="#000"/>
<path d="M1140.2 1236.2L1147.7 1243.7L1140.2 1251.2L1132.7 1243.7Z" fill="#000"/>
<path d="M1154.5 1263.6L1162 1271.1L1154.5 1278.6L1147 1271.1Z" fill="#000"/>
<path d="M1154.5 1308.4L1162 1315.9L1154.5 1323.4L1147 1315.9Z" fill="#000"/>
<circle cx="1220.9" cy="1251.2" r="7.85" fill="none" stroke="#000" stroke-width="3.1"/>
<circle cx="1220.9" cy="1293" r="7.85" fill="none" stroke="#000" stroke-width="3.1"/>
<circle cx="1206.3" cy="1314.8" r="7.85" fill="none" stroke="#000" stroke-width="3.1"/>
<circle cx="1235.7" cy="1320.1" r="7.85" fill="none" stroke="#000" stroke-width="3.1"/>
<circle cx="1220.9" cy="1326.9" r="7.85" fill="none" stroke="#000" stroke-width="3.1"/>
<circle cx="1220.9" cy="1343.5" r="7.85" fill="none" stroke="#000" stroke-width="3.1"/>
<line x1="887.8" y1="1357" x2="887.8" y2="1375.5" stroke="#000" stroke-width="4.8" stroke-linecap="butt"/>
<line x1="876.7" y1="1357" x2="898.9" y2="1357" stroke="#000" stroke-width="4.8" stroke-linecap="butt"/>
<line x1="876.7" y1="1375.5" x2="898.9" y2="1375.5" stroke="#000" stroke-width="4.8" stroke-linecap="butt"/>
<line x1="865.6" y1="1365.3" x2="910" y2="1365.3" stroke="#000" stroke-width="3" stroke-linecap="butt"/>
<line x1="954.4" y1="1362" x2="954.4" y2="1376" stroke="#000" stroke-width="4.8" stroke-linecap="butt"/>
<line x1="943.3" y1="1362" x2="965.5" y2="1362" stroke="#000" stroke-width="4.8" stroke-linecap="butt"/>
<line x1="943.3" y1="1376" x2="965.5" y2="1376" stroke="#000" stroke-width="4.8" stroke-linecap="butt"/>
<line x1="932.2" y1="1368" x2="976.6" y2="1368" stroke="#000" stroke-width="3" stroke-linecap="butt"/>
<line x1="1021.1" y1="1366" x2="1021.1" y2="1372" stroke="#000" stroke-width="4.8" stroke-linecap="butt"/>
<line x1="1010" y1="1366" x2="1032.2" y2="1366" stroke="#000" stroke-width="4.8" stroke-linecap="butt"/>
<line x1="1010" y1="1372" x2="1032.2" y2="1372" stroke="#000" stroke-width="4.8" stroke-linecap="butt"/>
<line x1="998.9" y1="1368" x2="1043.3" y2="1368" stroke="#000" stroke-width="3" stroke-linecap="butt"/>
<line x1="1087.8" y1="1113.5" x2="1087.8" y2="1185.6" stroke="#000" stroke-width="4.8" stroke-linecap="butt"/>
<line x1="1076.7" y1="1113.5" x2="1098.9" y2="1113.5" stroke="#000" stroke-width="4.8" stroke-linecap="butt"/>
<line x1="1076.7" y1="1185.6" x2="1098.9" y2="1185.6" stroke="#000" stroke-width="4.8" stroke-linecap="butt"/>
<line x1="1065.6" y1="1149.4" x2="1110" y2="1149.4" stroke="#000" stroke-width="3" stroke-linecap="butt"/>
<line x1="1154.4" y1="1178.1" x2="1154.4" y2="1292.2" stroke="#000" stroke-width="4.8" stroke-linecap="butt"/>
<line x1="1143.3" y1="1178.1" x2="1165.5" y2="1178.1" stroke="#000" stroke-width="4.8" stroke-linecap="butt"/>
<line x1="1143.3" y1="1292.2" x2="1165.5" y2="1292.2" stroke="#000" stroke-width="4.8" stroke-linecap="butt"/>
<line x1="1132.2" y1="1234.9" x2="1176.6" y2="1234.9" stroke="#000" stroke-width="3" stroke-linecap="butt"/>
<line x1="1221.1" y1="1275.9" x2="1221.1" y2="1340.5" stroke="#000" stroke-width="4.8" stroke-linecap="butt"/>
<line x1="1210" y1="1275.9" x2="1232.2" y2="1275.9" stroke="#000" stroke-width="4.8" stroke-linecap="butt"/>
<line x1="1210" y1="1340.5" x2="1232.2" y2="1340.5" stroke="#000" stroke-width="4.8" stroke-linecap="butt"/>
<line x1="1198.9" y1="1307.7" x2="1243.3" y2="1307.7" stroke="#000" stroke-width="3" stroke-linecap="butt"/>
<path d="M888.6 896.8V848.5H1221V965" stroke="#000" stroke-width="2.9" fill="none" stroke-linejoin="miter" stroke-linecap="butt"/>
<path d="M1054.8 820.4L1054.8 835.2M1048.39 824.1L1061.21 831.5M1061.21 824.1L1048.39 831.5" stroke="#000" stroke-width="2.5" fill="none"/>
<path d="M888.6 1030.8V915.2H1154.2V934.1" stroke="#000" stroke-width="2.9" fill="none" stroke-linejoin="miter" stroke-linecap="butt"/>
<path d="M993.35 887.1L993.35 901.9M986.94 890.8L999.76 898.2M999.76 890.8L986.94 898.2" stroke="#000" stroke-width="2.5" fill="none"/>
<path d="M1012.05 887.1L1012.05 901.9M1005.64 890.8L1018.46 898.2M1018.46 890.8L1005.64 898.2" stroke="#000" stroke-width="2.5" fill="none"/>
<path d="M1030.75 887.1L1030.75 901.9M1024.34 890.8L1037.16 898.2M1037.16 890.8L1024.34 898.2" stroke="#000" stroke-width="2.5" fill="none"/>
<path d="M1049.45 887.1L1049.45 901.9M1043.04 890.8L1055.86 898.2M1055.86 890.8L1043.04 898.2" stroke="#000" stroke-width="2.5" fill="none"/>
<path d="M1087.5 1001.8V983.4H1221V1001.8" stroke="#000" stroke-width="2.9" fill="none" stroke-linejoin="miter" stroke-linecap="butt"/>
<path d="M1126.2 955.3L1126.2 970.1M1119.79 959L1132.61 966.4M1132.61 959L1119.79 966.4" stroke="#000" stroke-width="2.5" fill="none"/>
<path d="M1144.9 955.3L1144.9 970.1M1138.49 959L1151.31 966.4M1151.31 959L1138.49 966.4" stroke="#000" stroke-width="2.5" fill="none"/>
<path d="M1163.6 955.3L1163.6 970.1M1157.19 959L1170.01 966.4M1170.01 959L1157.19 966.4" stroke="#000" stroke-width="2.5" fill="none"/>
<path d="M1182.3 955.3L1182.3 970.1M1175.89 959L1188.71 966.4M1188.71 959L1175.89 966.4" stroke="#000" stroke-width="2.5" fill="none"/>
<path d="M888.6 1335.6V1050.1H1081.6V1069" stroke="#000" stroke-width="2.9" fill="none" stroke-linejoin="miter" stroke-linecap="butt"/>
<path d="M957.05 1022L957.05 1036.8M950.64 1025.7L963.46 1033.1M963.46 1025.7L950.64 1033.1" stroke="#000" stroke-width="2.5" fill="none"/>
<path d="M975.75 1022L975.75 1036.8M969.34 1025.7L982.16 1033.1M982.16 1025.7L969.34 1033.1" stroke="#000" stroke-width="2.5" fill="none"/>
<path d="M994.45 1022L994.45 1036.8M988.04 1025.7L1000.86 1033.1M1000.86 1025.7L988.04 1033.1" stroke="#000" stroke-width="2.5" fill="none"/>
<path d="M1013.15 1022L1013.15 1036.8M1006.74 1025.7L1019.56 1033.1M1019.56 1025.7L1006.74 1033.1" stroke="#000" stroke-width="2.5" fill="none"/>
<path d="M1094.4 1069V1050.1H1148.2V1141.1" stroke="#000" stroke-width="2.9" fill="none" stroke-linejoin="miter" stroke-linecap="butt"/>
<path d="M1102.6 1022L1102.6 1036.8M1096.19 1025.7L1109.01 1033.1M1109.01 1025.7L1096.19 1033.1" stroke="#000" stroke-width="2.5" fill="none"/>
<path d="M1121.3 1022L1121.3 1036.8M1114.89 1025.7L1127.71 1033.1M1127.71 1025.7L1114.89 1033.1" stroke="#000" stroke-width="2.5" fill="none"/>
<path d="M1140 1022L1140 1036.8M1133.59 1025.7L1146.41 1033.1M1146.41 1025.7L1133.59 1033.1" stroke="#000" stroke-width="2.5" fill="none"/>
<path d="M1160.7 1141.1V1050.1H1220.9V1231.9" stroke="#000" stroke-width="2.9" fill="none" stroke-linejoin="miter" stroke-linecap="butt"/>
<path d="M1181.45 1022L1181.45 1036.8M1175.04 1025.7L1187.86 1033.1M1187.86 1025.7L1175.04 1033.1" stroke="#000" stroke-width="2.5" fill="none"/>
<path d="M1200.15 1022L1200.15 1036.8M1193.74 1025.7L1206.56 1033.1M1206.56 1025.7L1193.74 1033.1" stroke="#000" stroke-width="2.5" fill="none"/>
<text transform="translate(2.4 1664.3) scale(0.9 1)" font-family='"Liberation Sans", sans-serif' font-size="44.5" font-weight="bold">E</text>
<line x1="151.5" y1="1841.75" x2="151.5" y2="2232.85" stroke="#000" stroke-width="2.9" stroke-linecap="butt"/>
<line x1="139.3" y1="1843.2" x2="151.5" y2="1843.2" stroke="#000" stroke-width="2.9" stroke-linecap="butt"/>
<text transform="translate(136.4 1855) scale(1 1.09)" font-family='"Liberation Sans", sans-serif' font-size="30" font-weight="bold" text-anchor="end">25</text>
<line x1="139.3" y1="1921.1" x2="151.5" y2="1921.1" stroke="#000" stroke-width="2.9" stroke-linecap="butt"/>
<text transform="translate(136.4 1932.89) scale(1 1.09)" font-family='"Liberation Sans", sans-serif' font-size="30" font-weight="bold" text-anchor="end">20</text>
<line x1="139.3" y1="1998.6" x2="151.5" y2="1998.6" stroke="#000" stroke-width="2.9" stroke-linecap="butt"/>
<text transform="translate(136.4 2010.39) scale(1 1.09)" font-family='"Liberation Sans", sans-serif' font-size="30" font-weight="bold" text-anchor="end">15</text>
<line x1="139.3" y1="2076.4" x2="151.5" y2="2076.4" stroke="#000" stroke-width="2.9" stroke-linecap="butt"/>
<text transform="translate(136.4 2088.2) scale(1 1.09)" font-family='"Liberation Sans", sans-serif' font-size="30" font-weight="bold" text-anchor="end">10</text>
<line x1="139.3" y1="2154.3" x2="151.5" y2="2154.3" stroke="#000" stroke-width="2.9" stroke-linecap="butt"/>
<text transform="translate(136.4 2166.1) scale(1 1.09)" font-family='"Liberation Sans", sans-serif' font-size="30" font-weight="bold" text-anchor="end">5</text>
<line x1="139.3" y1="2231.4" x2="151.5" y2="2231.4" stroke="#000" stroke-width="2.9" stroke-linecap="butt"/>
<text transform="translate(136.4 2243.2) scale(1 1.09)" font-family='"Liberation Sans", sans-serif' font-size="30" font-weight="bold" text-anchor="end">0</text>
<line x1="139.3" y1="2231.4" x2="521.7" y2="2231.4" stroke="#000" stroke-width="2.9" stroke-linecap="butt"/>
<line x1="181.9" y1="2231.4" x2="181.9" y2="2244" stroke="#000" stroke-width="2.9" stroke-linecap="butt"/>
<line x1="243.2" y1="2231.4" x2="243.2" y2="2244" stroke="#000" stroke-width="2.9" stroke-linecap="butt"/>
<line x1="304.6" y1="2231.4" x2="304.6" y2="2244" stroke="#000" stroke-width="2.9" stroke-linecap="butt"/>
<line x1="365.9" y1="2231.4" x2="365.9" y2="2244" stroke="#000" stroke-width="2.9" stroke-linecap="butt"/>
<line x1="427.6" y1="2231.4" x2="427.6" y2="2244" stroke="#000" stroke-width="2.9" stroke-linecap="butt"/>
<line x1="489" y1="2231.4" x2="489" y2="2244" stroke="#000" stroke-width="2.9" stroke-linecap="butt"/>
<text x="186.85" y="2275.1" font-family='"Liberation Sans", sans-serif' font-size="29.7" font-weight="bold" text-anchor="end" transform="rotate(-45 186.85 2275.1)">Normal</text>
<text x="248.55" y="2275.25" font-family='"Liberation Sans", sans-serif' font-size="29.7" font-weight="bold" text-anchor="end" transform="rotate(-45 248.55 2275.25)">KD</text>
<text x="314.95" y="2268.55" font-family='"Liberation Sans", sans-serif' font-size="29.7" font-weight="bold" text-anchor="end" transform="rotate(-45 314.95 2268.55)">BHB</text>
<text x="377.05" y="2268.65" font-family='"Liberation Sans", sans-serif' font-size="29.7" font-weight="bold" text-anchor="end" transform="rotate(-45 377.05 2268.65)">cColitis</text>
<text x="438.85" y="2268.8" font-family='"Liberation Sans", sans-serif' font-size="29.7" font-weight="bold" text-anchor="end" transform="rotate(-45 438.85 2268.8)">cColitis/KD</text>
<text x="499.8" y="2268.75" font-family='"Liberation Sans", sans-serif' font-size="29.7" font-weight="bold" text-anchor="end" transform="rotate(-45 499.8 2268.75)">cColitis/BHB</text>
<text x="87" y="2032.8" font-family='"Liberation Sans", sans-serif' font-size="24.1" font-weight="bold" text-anchor="middle" transform="rotate(-90 87 2032.8)">IL-18 (ng/gm tissue)</text>
<circle cx="167.1" cy="2122.9" r="5.7" fill="#000"/>
<circle cx="181.7" cy="2118.6" r="5.7" fill="#000"/>
<circle cx="196.7" cy="2123.6" r="5.7" fill="#000"/>
<circle cx="181.7" cy="2149.3" r="5.7" fill="#000"/>
<circle cx="196.7" cy="2156.4" r="5.7" fill="#000"/>
<circle cx="167.1" cy="2161.7" r="5.7" fill="#000"/>
<circle cx="228.6" cy="2122.1" r="5.85" fill="none" stroke="#a09fa4" stroke-width="3.8"/>
<circle cx="243.1" cy="2121.4" r="5.85" fill="none" stroke="#a09fa4" stroke-width="3.8"/>
<circle cx="258.3" cy="2113.6" r="5.85" fill="none" stroke="#a09fa4" stroke-width="3.8"/>
<circle cx="258.3" cy="2127.9" r="5.85" fill="none" stroke="#a09fa4" stroke-width="3.8"/>
<circle cx="242.9" cy="2143.6" r="5.85" fill="none" stroke="#a09fa4" stroke-width="3.8"/>
<circle cx="242.9" cy="2155.7" r="5.85" fill="none" stroke="#a09fa4" stroke-width="3.8"/>
<rect x="284.3" y="2117.6" width="11.4" height="11.4" fill="#000"/>
<rect x="313.6" y="2115.4" width="11.4" height="11.4" fill="#000"/>
<rect x="298.9" y="2127.2" width="11.4" height="11.4" fill="#000"/>
<rect x="298.9" y="2156.4" width="11.4" height="11.4" fill="#000"/>
<rect x="313.6" y="2161.4" width="11.4" height="11.4" fill="#000"/>
<rect x="284.3" y="2165" width="11.4" height="11.4" fill="#000"/>
<path d="M366 1869.3L371.99 1880.7L360.01 1880.7Z" fill="#000"/>
<path d="M366 1894.3L371.99 1905.7L360.01 1905.7Z" fill="#000"/>
<path d="M381 1960.5L386.99 1971.9L375.01 1971.9Z" fill="#000"/>
<path d="M351.4 1970.9L357.38 1982.3L345.41 1982.3Z" fill="#000"/>
<path d="M381 1987L386.99 1998.4L375.01 1998.4Z" fill="#000"/>
<path d="M351.4 1992L357.38 2003.4L345.41 2003.4Z" fill="#000"/>
<path d="M412.9 1990L418.88 1978.6L406.91 1978.6Z" fill="#000"/>
<path d="M442.4 1987.8L448.38 1976.4L436.41 1976.4Z" fill="#000"/>
<path d="M427.4 1998.7L433.38 1987.3L421.41 1987.3Z" fill="#000"/>
<path d="M427.4 2047.1L433.38 2035.7L421.41 2035.7Z" fill="#000"/>
<path d="M420.3 2073.9L426.29 2062.5L414.31 2062.5Z" fill="#000"/>
<path d="M434.7 2073.3L440.69 2061.9L428.71 2061.9Z" fill="#000"/>
<path d="M488.9 2044.7L494.5 2050.3L488.9 2055.9L483.3 2050.3Z" fill="#000"/>
<path d="M488.9 2062.3L494.5 2067.9L488.9 2073.5L483.3 2067.9Z" fill="#000"/>
<path d="M474 2083.7L479.6 2089.3L474 2094.9L468.4 2089.3Z" fill="#000"/>
<path d="M503.9 2083.7L509.5 2089.3L503.9 2094.9L498.3 2089.3Z" fill="#000"/>
<path d="M488.9 2090.8L494.5 2096.4L488.9 2102L483.3 2096.4Z" fill="#000"/>
<path d="M488.9 2109.4L494.5 2115L488.9 2120.6L483.3 2115Z" fill="#000"/>
<line x1="181.9" y1="2120" x2="181.9" y2="2157.9" stroke="#000" stroke-width="4.3" stroke-linecap="butt"/>
<line x1="171.9" y1="2120" x2="191.9" y2="2120" stroke="#000" stroke-width="4.3" stroke-linecap="butt"/>
<line x1="171.9" y1="2157.9" x2="191.9" y2="2157.9" stroke="#000" stroke-width="4.3" stroke-linecap="butt"/>
<line x1="161.6" y1="2138.6" x2="202.2" y2="2138.6" stroke="#000" stroke-width="2.5" stroke-linecap="butt"/>
<line x1="243.2" y1="2114.7" x2="243.2" y2="2147.1" stroke="#000" stroke-width="4.3" stroke-linecap="butt"/>
<line x1="233.2" y1="2114.7" x2="253.2" y2="2114.7" stroke="#000" stroke-width="4.3" stroke-linecap="butt"/>
<line x1="233.2" y1="2147.1" x2="253.2" y2="2147.1" stroke="#000" stroke-width="4.3" stroke-linecap="butt"/>
<line x1="222.9" y1="2130.7" x2="263.5" y2="2130.7" stroke="#000" stroke-width="2.5" stroke-linecap="butt"/>
<line x1="304.6" y1="2122.6" x2="304.6" y2="2170" stroke="#000" stroke-width="4.3" stroke-linecap="butt"/>
<line x1="294.6" y1="2122.6" x2="314.6" y2="2122.6" stroke="#000" stroke-width="4.3" stroke-linecap="butt"/>
<line x1="294.6" y1="2170" x2="314.6" y2="2170" stroke="#000" stroke-width="4.3" stroke-linecap="butt"/>
<line x1="284.3" y1="2146.1" x2="324.9" y2="2146.1" stroke="#000" stroke-width="2.5" stroke-linecap="butt"/>
<line x1="365.9" y1="1899.3" x2="365.9" y2="2002.4" stroke="#000" stroke-width="4.3" stroke-linecap="butt"/>
<line x1="355.9" y1="1899.3" x2="375.9" y2="1899.3" stroke="#000" stroke-width="4.3" stroke-linecap="butt"/>
<line x1="355.9" y1="2002.4" x2="375.9" y2="2002.4" stroke="#000" stroke-width="4.3" stroke-linecap="butt"/>
<line x1="345.6" y1="1950.7" x2="386.2" y2="1950.7" stroke="#000" stroke-width="2.5" stroke-linecap="butt"/>
<line x1="427.6" y1="1981.9" x2="427.6" y2="2064" stroke="#000" stroke-width="4.3" stroke-linecap="butt"/>
<line x1="417.6" y1="1981.9" x2="437.6" y2="1981.9" stroke="#000" stroke-width="4.3" stroke-linecap="butt"/>
<line x1="417.6" y1="2064" x2="437.6" y2="2064" stroke="#000" stroke-width="4.3" stroke-linecap="butt"/>
<line x1="407.3" y1="2022.6" x2="447.9" y2="2022.6" stroke="#000" stroke-width="2.5" stroke-linecap="butt"/>
<line x1="489" y1="2062.1" x2="489" y2="2107.1" stroke="#000" stroke-width="4.3" stroke-linecap="butt"/>
<line x1="479" y1="2062.1" x2="499" y2="2062.1" stroke="#000" stroke-width="4.3" stroke-linecap="butt"/>
<line x1="479" y1="2107.1" x2="499" y2="2107.1" stroke="#000" stroke-width="4.3" stroke-linecap="butt"/>
<line x1="468.7" y1="2084.6" x2="509.3" y2="2084.6" stroke="#000" stroke-width="2.5" stroke-linecap="butt"/>
<path d="M182.2 1698V1653.4H489.5V1760.2" stroke="#000" stroke-width="2.7" fill="none" stroke-linejoin="miter" stroke-linecap="butt"/>
<text x="335.85" y="1639.5" font-family='"Liberation Sans", sans-serif' font-size="24" font-weight="normal" text-anchor="middle">ns</text>
<path d="M182.2 1823.6V1715.6H427.3V1732.3" stroke="#000" stroke-width="2.7" fill="none" stroke-linejoin="miter" stroke-linecap="butt"/>
<path d="M278.95 1689.8L278.95 1703.4M273.06 1693.2L284.84 1700M284.84 1693.2L273.06 1700" stroke="#000" stroke-width="2.3" fill="none"/>
<path d="M296.15 1689.8L296.15 1703.4M290.26 1693.2L302.04 1700M302.04 1693.2L290.26 1700" stroke="#000" stroke-width="2.3" fill="none"/>
<path d="M313.35 1689.8L313.35 1703.4M307.46 1693.2L319.24 1700M319.24 1693.2L307.46 1700" stroke="#000" stroke-width="2.3" fill="none"/>
<path d="M330.55 1689.8L330.55 1703.4M324.66 1693.2L336.44 1700M336.44 1693.2L324.66 1700" stroke="#000" stroke-width="2.3" fill="none"/>
<path d="M365.6 1794.5V1777.3H489.5V1823.6" stroke="#000" stroke-width="2.7" fill="none" stroke-linejoin="miter" stroke-linecap="butt"/>
<path d="M401.75 1751.5L401.75 1765.1M395.86 1754.9L407.64 1761.7M407.64 1754.9L395.86 1761.7" stroke="#000" stroke-width="2.3" fill="none"/>
<path d="M418.95 1751.5L418.95 1765.1M413.06 1754.9L424.84 1761.7M424.84 1754.9L413.06 1761.7" stroke="#000" stroke-width="2.3" fill="none"/>
<path d="M436.15 1751.5L436.15 1765.1M430.26 1754.9L442.04 1761.7M442.04 1754.9L430.26 1761.7" stroke="#000" stroke-width="2.3" fill="none"/>
<path d="M453.35 1751.5L453.35 1765.1M447.46 1754.9L459.24 1761.7M459.24 1754.9L447.46 1761.7" stroke="#000" stroke-width="2.3" fill="none"/>
<path d="M182.2 2101.4V1841.1H360.3V1857.1" stroke="#000" stroke-width="2.7" fill="none" stroke-linejoin="miter" stroke-linecap="butt"/>
<path d="M245.45 1815.3L245.45 1828.9M239.56 1818.7L251.34 1825.5M251.34 1818.7L239.56 1825.5" stroke="#000" stroke-width="2.3" fill="none"/>
<path d="M262.65 1815.3L262.65 1828.9M256.76 1818.7L268.54 1825.5M268.54 1818.7L256.76 1825.5" stroke="#000" stroke-width="2.3" fill="none"/>
<path d="M279.85 1815.3L279.85 1828.9M273.96 1818.7L285.74 1825.5M285.74 1818.7L273.96 1825.5" stroke="#000" stroke-width="2.3" fill="none"/>
<path d="M297.05 1815.3L297.05 1828.9M291.16 1818.7L302.94 1825.5M302.94 1818.7L291.16 1825.5" stroke="#000" stroke-width="2.3" fill="none"/>
<path d="M371.7 1857.1V1841.1H421.4V1964.3" stroke="#000" stroke-width="2.7" fill="none" stroke-linejoin="miter" stroke-linecap="butt"/>
<path d="M387.95 1815.3L387.95 1828.9M382.06 1818.7L393.84 1825.5M393.84 1818.7L382.06 1825.5" stroke="#000" stroke-width="2.3" fill="none"/>
<path d="M405.15 1815.3L405.15 1828.9M399.26 1818.7L411.04 1825.5M411.04 1818.7L399.26 1825.5" stroke="#000" stroke-width="2.3" fill="none"/>
<path d="M433.1 1964.3V1841.1H488.9V2032.9" stroke="#000" stroke-width="2.7" fill="none" stroke-linejoin="miter" stroke-linecap="butt"/>
<path d="M461 1815.3L461 1828.9M455.11 1818.7L466.89 1825.5M466.89 1818.7L455.11 1825.5" stroke="#000" stroke-width="2.3" fill="none"/>
</svg>
</body></html>
